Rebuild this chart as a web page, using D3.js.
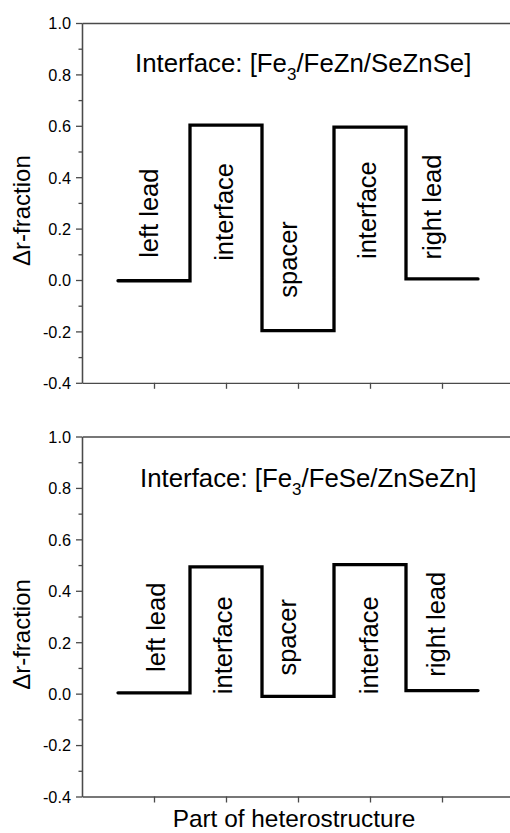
<!DOCTYPE html>
<html lang="en">
  <head>
    <meta charset="UTF-8" />
    <title>Interface r-fraction steps</title>
    <script src="https://cdn.jsdelivr.net/npm/d3@7"></script>
    <style>
      body { margin: 0; background: #fff; }
      svg text { font-family: "Liberation Sans", Arial, sans-serif; fill: #000; }
    </style>
  </head>
  <body>
    <div id="viz"></div>
    <script>
      // ---- data ----
      const segments = ["left lead", "interface", "spacer", "interface", "right lead"];
      const edges = [0.5, 1.5, 2.5, 3.5, 4.5, 5.5];
      const topValues = [-0.003, 0.603, -0.197, 0.595, 0.004];
      const bottomValues = [0.003, 0.493, -0.011, 0.502, 0.012];
      const yTicks = [-0.4, -0.2, 0.0, 0.2, 0.4, 0.6, 0.8, 1.0];
      const yMinor = [-0.3, -0.1, 0.1, 0.3, 0.5, 0.7, 0.9];
      const xTicks = [1, 2, 3, 4, 5];

      // label anchors (data units): x of baseline, y of text centre
      const topLabelX = [1.056, 2.097, 2.993, 4.083, 4.986];
      const topLabelY = [0.26, 0.265, 0.08, 0.272, 0.284];
      const bottomLabelX = [1.153, 2.083, 2.972, 4.111, 5.04];
      const bottomLabelY = [0.258, 0.188, 0.219, 0.188, 0.27];

      const panels = [
        { title: ["Interface: [Fe", "3", "/FeZn/SeZnSe]"], values: topValues,
          lx: topLabelX, ly: topLabelY, top: 23, bottom: 382.8,
          titleAt: [0.736, 0.81], yLabelAt: 0.27 },
        { title: ["Interface: [Fe", "3", "/FeSe/ZnSeZn]"], values: bottomValues,
          lx: bottomLabelX, ly: bottomLabelY, top: 436.5, bottom: 796.5,
          titleAt: [0.806, 0.803], yLabelAt: 0.23 }
      ];

      const width = 510, height = 833;
      const svg = d3.select("#viz").append("svg")
        .attr("width", width).attr("height", height);

      const x = d3.scaleLinear().domain([0, 6]).range([82, 514]);
      const axisColor = "#4a4a4a";

      panels.forEach(function (p, i) {
        const y = d3.scaleLinear().domain([-0.4, 1.0]).range([p.bottom, p.top]);
        const g = svg.append("g");

        // top frame line
        g.append("g")
          .attr("transform", "translate(0," + y(1.0) + ")")
          .call(d3.axisTop(x).tickValues([]).tickSizeOuter(0));

        // bottom axis
        g.append("g")
          .attr("transform", "translate(0," + y(-0.4) + ")")
          .call(d3.axisBottom(x).tickValues(xTicks).tickSize(6).tickSizeOuter(0).tickFormat(""));

        // minor y ticks
        g.append("g")
          .attr("transform", "translate(" + x(0) + ",0)")
          .call(d3.axisLeft(y).tickValues(yMinor).tickSize(3.5).tickSizeOuter(0).tickFormat(""));

        // major y ticks
        const ya = g.append("g")
          .attr("transform", "translate(" + x(0) + ",0)")
          .call(d3.axisLeft(y).tickValues(yTicks).tickSize(6).tickSizeOuter(0)
            .tickPadding(5).tickFormat(d => d.toFixed(1)));
        ya.selectAll("text").attr("font-size", 16.3).attr("font-family", null).attr("dy", "0.36em");

        g.selectAll(".domain, .tick line").attr("stroke", axisColor).attr("stroke-width", 1.3);

        // step line
        const pts = p.values.map((v, k) => [edges[k], v]);
        pts.push([edges[edges.length - 1], p.values[p.values.length - 1]]);
        const line = d3.line().x(d => x(d[0])).y(d => y(d[1])).curve(d3.curveStepAfter);
        g.append("path")
          .attr("d", line(pts))
          .attr("fill", "none")
          .attr("stroke", "#000")
          .attr("stroke-width", 3.3)
          .attr("stroke-linejoin", "miter")
          .attr("stroke-linecap", "round");

        // segment labels (rotated)
        segments.forEach(function (s, k) {
          g.append("text")
            .attr("transform", "translate(" + x(p.lx[k]) + "," + y(p.ly[k]) + ") rotate(-90)")
            .attr("text-anchor", "middle")
            .attr("font-size", 25.5)
            .text(s);
        });

        // title with subscript
        const t = g.append("text")
          .attr("x", x(p.titleAt[0]))
          .attr("y", y(p.titleAt[1]))
          .attr("font-size", 25.8);
        t.append("tspan").text(p.title[0]);
        t.append("tspan").attr("font-size", 17).attr("dy", 8).text(p.title[1]);
        t.append("tspan").attr("dy", -8).text(p.title[2]);

        // y axis title
        g.append("text")
          .attr("transform", "translate(30," + y(p.yLabelAt) + ") rotate(-90)")
          .attr("text-anchor", "middle")
          .attr("font-size", 24)
          .text("\u0394r-fraction");
      });

      // x axis title
      svg.append("text")
        .attr("x", x(3) - 4)
        .attr("y", 827)
        .attr("text-anchor", "middle")
        .attr("font-size", 24.4)
        .text("Part of heterostructure");
    </script>
  </body>
</html>
